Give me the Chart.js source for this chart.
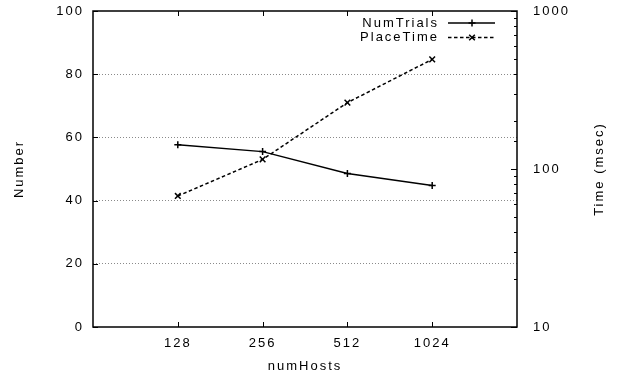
<!DOCTYPE html>
<html><head><meta charset="utf-8">
<style>html,body{margin:0;padding:0;background:#fff}#wrap{width:620px;height:376px}</style>
<script src="https://cdn.jsdelivr.net/npm/chart.js@4.4.0/dist/chart.umd.min.js"></script>
</head><body><div id="wrap"><canvas id="c" width="620" height="376"></canvas></div>
<script>
const categories = ['128', '256', '512', '1024'];
const numTrials = [57.7, 55.5, 48.6, 44.8];
const placeTime = [67.5, 115, 263, 494];
const leftTicks = [0, 20, 40, 60, 80, 100];
const rightMajorTicks = [10, 100, 1000];
const seriesLabels = ['NumTrials', 'PlaceTime'];
const xTitle = 'numHosts';
const yTitle = 'Number';
const y2Title = 'Time (msec)';

const FONT = {family: "'Liberation Sans', Arial, Helvetica, sans-serif", size: 13};
const SPACING = '2px';

const gnuplotPlugin = {
  id: 'gnuplotStyle',
  beforeLayout(chart) { chart.ctx.letterSpacing = SPACING; },
  beforeDraw(chart) {
    const ctx = chart.ctx;
    ctx.letterSpacing = SPACING;
    ctx.save();
    ctx.fillStyle = '#fff';
    ctx.fillRect(0, 0, chart.width, chart.height);
    ctx.restore();
  },
  beforeDatasetsDraw(chart) {
    const ctx = chart.ctx, a = chart.chartArea;
    const sx = chart.scales.x, sy = chart.scales.y, sy2 = chart.scales.y2;
    ctx.save();
    ctx.strokeStyle = '#000';
    ctx.lineWidth = 1;
    ctx.beginPath();
    sx.ticks.forEach(t => {
      const px = Math.round(sx.getPixelForValue(t.value)) + 0.5;
      ctx.moveTo(px, a.bottom); ctx.lineTo(px, a.bottom - 5);
      ctx.moveTo(px, a.top); ctx.lineTo(px, a.top + 5);
    });
    sy.ticks.forEach(t => {
      const py = Math.round(sy.getPixelForValue(t.value)) + 0.5;
      ctx.moveTo(a.left, py); ctx.lineTo(a.left + 5, py);
    });
    sy2.ticks.forEach(t => {
      const py = Math.round(sy2.getPixelForValue(t.value)) + 0.5;
      const major = rightMajorTicks.includes(t.value);
      ctx.moveTo(a.right, py); ctx.lineTo(a.right - (major ? 6 : 3), py);
    });
    ctx.stroke();
    ctx.lineWidth = 1.5;
    ctx.strokeRect(a.left, a.top, a.right - a.left, a.bottom - a.top);
    ctx.restore();
  },
  afterDraw(chart) {
    const ctx = chart.ctx, a = chart.chartArea;
    ctx.save();
    ctx.letterSpacing = SPACING;
    ctx.fillStyle = '#000';
    ctx.font = `${FONT.size}px ${FONT.family}`;
    // right axis title, reading bottom to top
    ctx.save();
    ctx.translate(599, (a.top + a.bottom) / 2);
    ctx.rotate(-Math.PI / 2);
    ctx.textAlign = 'center';
    ctx.textBaseline = 'middle';
    ctx.fillText(y2Title, 0, 0);
    ctx.restore();
    // gnuplot style key
    chart.data.datasets.forEach((ds, i) => {
      const y = a.top + 12 + i * 14.5;
      ctx.textAlign = 'right';
      ctx.textBaseline = 'middle';
      ctx.fillText(ds.label, a.right - 78, y);
      ctx.save();
      ctx.strokeStyle = ds.borderColor;
      ctx.lineWidth = ds.borderWidth;
      ctx.setLineDash(ds.borderDash || []);
      ctx.beginPath();
      ctx.moveTo(a.right - 69, y); ctx.lineTo(a.right - 22, y);
      ctx.stroke();
      ctx.setLineDash([]);
      ctx.lineWidth = ds.pointBorderWidth;
      Chart.helpers.drawPoint(ctx, {pointStyle: ds.pointStyle, radius: ds.pointRadius, rotation: 0, borderWidth: ds.pointBorderWidth}, a.right - 45, y);
      ctx.restore();
    });
    ctx.restore();
  }
};

const toXY = arr => arr.map((v, i) => ({x: i + 1, y: v}));
const noPad = s => { s.paddingTop = 0; s.paddingBottom = 0; };

new Chart(document.getElementById('c'), {
  type: 'line',
  data: {
    datasets: [
      {
        label: seriesLabels[0], data: toXY(numTrials), yAxisID: 'y',
        borderColor: '#000', borderWidth: 1.5, fill: false, tension: 0,
        pointStyle: 'cross', pointRadius: 3.5, pointBorderWidth: 1.5,
        pointBorderColor: '#000', pointBackgroundColor: '#000'
      },
      {
        label: seriesLabels[1], data: toXY(placeTime), yAxisID: 'y2',
        borderColor: '#000', borderWidth: 1.5, borderDash: [3.5, 2.5], fill: false, tension: 0,
        pointStyle: 'crossRot', pointRadius: 4, pointBorderWidth: 1.5,
        pointBorderColor: '#000', pointBackgroundColor: '#000'
      }
    ]
  },
  options: {
    responsive: false,
    animation: false,
    devicePixelRatio: 1,
    layout: {padding: {top: 11, left: 0, right: 0, bottom: 0}},
    plugins: {legend: {display: false}, tooltip: {enabled: false}, title: {display: false}},
    scales: {
      x: {
        type: 'linear', position: 'bottom', min: 0, max: 5,
        afterBuildTicks: s => { s.ticks = categories.map((c, i) => ({value: i + 1})); },
        afterFit: s => { s.height = 49; s.paddingLeft = 0; s.paddingRight = 0; },
        ticks: {
          callback: v => categories[v - 1] ?? '',
          autoSkip: false, maxRotation: 0, padding: 9,
          color: '#000', font: FONT
        },
        grid: {display: false, drawTicks: false},
        border: {display: false},
        title: {display: true, text: xTitle, color: '#000', font: FONT, padding: {top: 0, bottom: 2}}
      },
      y: {
        type: 'linear', position: 'left', min: 0, max: 100,
        afterBuildTicks: s => { s.ticks = leftTicks.map(v => ({value: v})); },
        afterFit: s => { s.width = 93; noPad(s); },
        ticks: {padding: 9, color: '#000', font: FONT, autoSkip: false},
        grid: {
          drawTicks: false, lineWidth: 1, borderDash: [1, 2],
          color: c => (c.tick && (c.tick.value === 0 || c.tick.value === 100)) ? 'rgba(0,0,0,0)' : '#8a8a8a'
        },
        border: {display: false, dash: [1, 2]},
        title: {display: true, text: yTitle, color: '#000', font: FONT, padding: {top: 12, bottom: 0}}
      },
      y2: {
        type: 'logarithmic', position: 'right', min: 10, max: 1000,
        afterFit: s => { s.width = 103; noPad(s); },
        ticks: {
          callback: v => rightMajorTicks.includes(v) ? String(v) : '',
          padding: 16, color: '#000', font: FONT, autoSkip: false
        },
        grid: {display: false, drawTicks: false, drawOnChartArea: false},
        border: {display: false}
      }
    }
  },
  plugins: [gnuplotPlugin]
});
</script>
</body></html>
